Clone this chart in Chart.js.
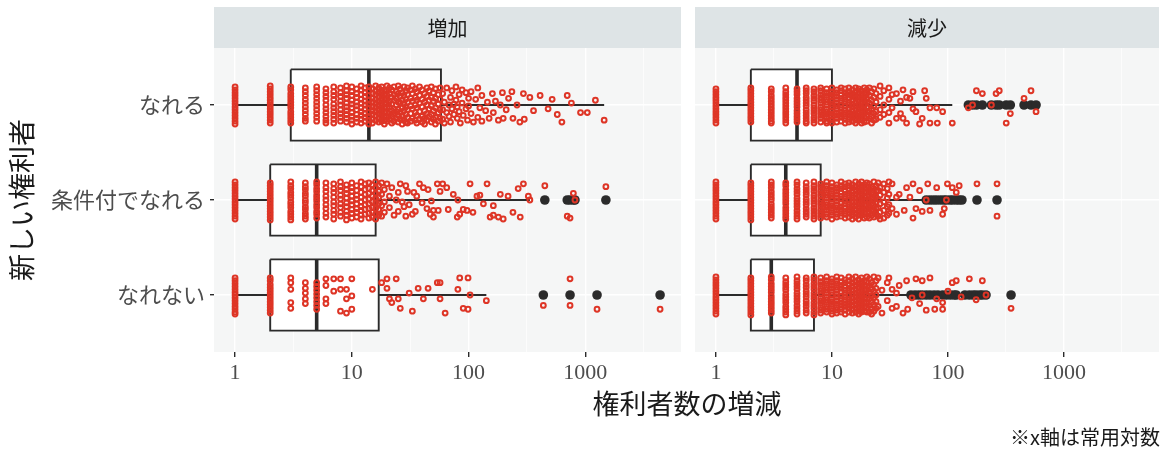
<!DOCTYPE html>
<html>
<head>
<meta charset="utf-8">
<script src="https://cdn.jsdelivr.net/npm/chart.js@4/dist/chart.umd.min.js"></script>
<style>
html, body { margin: 0; padding: 0; background: #fff; }
#wrap { position: relative; width: 1165px; height: 451px; }
#c1 { position: absolute; left: 0; top: 0; }
#c2 { position: absolute; left: 688px; top: 0; }
</style>
</head>
<body>
<div id="wrap">
  <canvas id="c1" width="1165" height="451"></canvas>
  <canvas id="c2" width="477" height="451"></canvas>
</div>
<script>
const categories = ['なれる', '条件付でなれる', 'なれない'];
const facets = ['増加', '減少'];
const xTicks = [1, 10, 100, 1000];
const xMinorTicks = [3.16, 31.6, 316, 3162];

// box stats per category: [lower whisker, Q1, median, Q3, upper whisker]
const statsIncrease = [
  [1, 3, 14, 58, 1450],
  [1, 2, 5, 16, 335],
  [1, 2, 5, 17, 142]
];
const statsDecrease = [
  [1, 2, 5, 10, 109],
  [1, 2, 4, 8, 60],
  [1, 2, 3, 7, 45]
];

const outliersIncrease = [
  [],
  [450, 700, 740, 790, 815, 1500],
  [437, 740, 1260, 4370]
];
const outliersDecrease = [
  [150, 163, 176, 198, 237, 260, 277, 318, 345, 453, 520, 575],
  [65, 70, 75, 80, 86, 92, 97, 104, 110, 118, 125, 132, 178, 265],
  [48, 52, 56, 60, 65, 70, 76, 82, 90, 97, 105, 113, 118, 140, 153, 165, 175, 188, 198, 213, 350]
];

// jittered observations: [value, [vertical offsets in 1/100 of a category]]
const jitIncNareru = [
  [1,[-19,-16,-13,-10,-7,-4,-1,2,5,8,11,14,17,20]],
  [2,[-20,-17,-14,-11,-8,-5,-2,1,4,7,10,13,16,19]],
  [3,[-19,-16,-12,-9,-6,-3,0,3,7,10,13,16,19]],
  [4,[-18,-14,-10,-6,-2,2,6,10,14,17]],
  [5,[-19,-15,-11,-7,-3,1,5,9,13,17]],
  [6,[-17,-13,-9,-5,0,4,8,12,16,19]],
  [7,[-19,-14,-10,-6,-1,3,7,11,15,19]],
  [8,[-18,-13,-9,-4,0,5,9,13,17]],
  [9,[-20,-15,-11,-7,-2,2,6,10,14,18]],
  [10,[-19,-14,-10,-5,-1,3,8,12,16,20]],
  [11,[-17,-12,-8,-3,1,5,10,14,18]],
  [12,[-20,-16,-11,-6,-2,3,7,11,15,19]],
  [13,[-18,-13,-9,-4,0,4,9,13,17]],
  [14,[-19,-15,-10,-5,-1,3,8,12,16,20]],
  [15,[-17,-12,-7,-3,2,6,10,15,19]],
  [16,[-20,-15,-11,-6,-2,2,7,11,16]],
  [17,[-18,-13,-9,-4,1,5,9,14,18]],
  [18,[-19,-14,-10,-5,-1,4,8,12,17]],
  [19,[-16,-11,-7,-2,3,7,12,16,20]],
  [20,[-20,-15,-10,-6,-1,3,8,13,17]],
  [21,[-18,-12,-4,2,9,15]],
  [22,[-16,-8,-1,6,12,19]],
  [23,[-19,-11,-5,4,10,17]],
  [24,[-14,-7,0,7,14]],
  [25,[-20,-12,-3,5,11,18]],
  [26,[-17,-9,-2,8,15]],
  [27,[-13,-5,3,12,20]],
  [28,[-19,-10,-1,6,16]],
  [29,[-15,-6,2,10,18]],
  [30,[-18,-11,-3,5,13,19]],
  [32,[-16,-7,1,9,17]],
  [33,[-20,-12,-4,4,14]],
  [35,[-17,-8,0,8,16]],
  [36,[-14,-5,3,11,19]],
  [38,[-19,-10,-2,7,15]],
  [40,[-16,-6,2,12,18]],
  [42,[-12,-3,6,14,20]],
  [44,[-18,-9,0,9,16]],
  [46,[-15,-5,4,12]],
  [48,[-19,-8,1,10,18]],
  [50,[-13,-4,6,15]],
  [52,[-17,-7,3,13,20]],
  [55,[-11,-1,8,17]],
  [57,[-18,-6,5,14]],
  [60,[-12,5,15]],[62,[-3,19]],[65,[-18,8]],[68,[0,12]],[70,[-8,18]],[72,[-15,4]],
  [75,[10,-1]],[78,[-5,-19]],[80,[14,2]],[83,[-11,7]],[85,[19]],[88,[-2,-16]],
  [90,[11]],[95,[4,-13]],[98,[16]],[100,[-7,1]],[105,[-14,9]],[110,[18]],
  [115,[-6]],[120,[13,-18]],[125,[3]],[130,[-10,17]],[140,[6]],[145,[-3]],
  [150,[14]],[160,[-12]],[163,[8]],[170,[-4]],[180,[16]],[187,[0]],[195,[-13]],
  [198,[14]],[210,[5]],[220,[-7]],[235,[-14]],[240,[14]],[260,[0]],[275,[18]],
  [295,[-12]],[300,[15]],[335,[-8]],[360,[6]],[410,[-10]],[480,[4]],[520,[-6]],
  [575,[10]],[630,[18]],[700,[-10]],[760,[-2]],[910,[8]],[1040,[8]],[1220,[-5]],[1450,[16]]
];
const jitIncJouken = [
  [1,[-19,-16,-13,-10,-7,-4,-1,2,5,8,11,14,17,20]],
  [2,[-18,-15,-12,-9,-6,-3,0,3,6,9,12,15,18,21]],
  [3,[-19,-15,-12,-8,-5,-2,2,5,8,12,15,18,21]],
  [4,[-18,-14,-11,-7,-4,0,3,7,10,14,17,20]],
  [5,[-19,-16,-12,-9,-5,-2,1,5,8,12,15,19]],
  [6,[-18,-13,-9,-4,0,5,9,14,18]],
  [7,[-17,-12,-8,-3,2,6,11,15,20]],
  [8,[-19,-14,-10,-5,-1,4,8,13,17]],
  [9,[-16,-11,-7,-2,3,7,12,16,21]],
  [10,[-18,-13,-9,-4,1,5,10,14,19]],
  [11,[-15,-10,-5,-1,4,9,13,18]],
  [12,[-19,-14,-8,-3,2,7,11,16,20]],
  [13,[-17,-11,-6,0,5,10,15]],
  [14,[-18,-12,-7,-1,4,9,14,19]],
  [15,[-16,-10,-4,2,8,13,18]],
  [16,[-19,-13,-7,-2,3,9,15,20]],
  [17,[-15,-9,-3,4,10,16]],
  [18,[-18,-6,6,17]],
  [19,[-11,2,13]],
  [20,[-17]],[21,[8,-4]],[22,[-13]],[23,[16]],[24,[0]],[25,[-8,12]],[26,[-17]],
  [27,[2]],[28,[7]],[29,[-15,17]],[30,[-9]],[31,[5]],[33,[15]],[34,[-8]],[35,[12]],
  [36,[-4]],[38,[-17]],[40,[3]],[41,[-13]],[44,[9]],[45,[-11]],[47,[15]],[48,[1]],
  [50,[11,18]],[54,[-17]],[55,[11]],[57,[-9]],[60,[-17]],[65,[-13]],[67,[10]],
  [74,[-6]],[80,[18]],[81,[0]],[84,[15]],[90,[10]],[97,[11]],[103,[-17]],[109,[13]],
  [118,[-4]],[125,[-5]],[134,[4]],[144,[-17]],[153,[18]],[163,[16,6]],[180,[18]],
  [187,[-6]],[198,[20]],[218,[-4]],[240,[13]],[266,[-12]],[277,[18]],[295,[-17]],
  [325,[-4]],[335,[0]],
  [450,[-15]],[700,[17]],[740,[19]],[790,[-7]],[815,[0]],[1500,[-14]]
];
const jitIncNarenai = [
  [1,[-18,-15,-12,-9,-6,-3,0,3,6,9,12,15,18,20]],
  [2,[-18,-15,-11,-8,-5,-2,1,4,7,10,13,16,19]],
  [3,[-18,-13,-6,8,14]],
  [4,[-13,-7,-2,4,9]],
  [5,[-13,-9,-5,-1,3,7,11,15]],
  [6,[-17,-10,4,9]],
  [7,[-17,-4]],
  [8,[-17,-6,17]],
  [9,[-6,4,19]],
  [10,[-17,1,15]],
  [15,[-6]],[18,[-13]],[20,[-17,-7]],[21,[4]],[22,[8]],[24,[-17]],[25,[4]],[26,[14]],
  [31,[-2]],[33,[17]],[37,[-7]],[41,[4]],[45,[-7]],[54,[-13]],[57,[-13,4]],[63,[19]],
  [81,[-6]],[84,[-18]],[90,[14]],[99,[-18,15]],[103,[0]],[142,[6]],
  [437,[11]],[740,[-17,11]],[1260,[15]],[4370,[15]]
];

const jitDecNareru = [
  [1,[-17,-14,-11,-8,-5,-2,1,4,7,10,13,16,19]],
  [2,[-18,-15,-12,-9,-6,-3,0,3,6,9,12,15,18]],
  [3,[-17,-14,-10,-7,-4,-1,2,5,8,11,14,17,19]],
  [4,[-18,-14,-11,-8,-5,-2,1,4,7,10,13,16,19]],
  [5,[-17,-14,-11,-7,-4,-1,2,6,9,12,15,18]],
  [6,[-18,-15,-12,-8,-5,-2,1,5,8,11,14,17,19]],
  [7,[-17,-14,-10,-7,-4,0,3,6,9,13,16,19]],
  [8,[-18,-15,-11,-8,-5,-2,2,5,8,11,14,18]],
  [9,[-17,-13,-10,-6,-3,0,4,7,10,13,17,19]],
  [10,[-18,-14,-11,-8,-4,-1,2,6,9,12,16,19]],
  [11,[-16,-13,-9,-6,-2,1,4,8,11,14,18]],
  [12,[-18,-15,-11,-7,-4,0,3,7,10,13,17]],
  [13,[-17,-13,-10,-6,-3,1,5,8,12,15,19]],
  [14,[-18,-14,-11,-7,-3,0,4,8,11,15,18]],
  [15,[-16,-12,-9,-5,-1,2,6,10,13,17]],
  [16,[-18,-14,-10,-7,-3,1,5,9,12,16,19]],
  [17,[-17,-13,-8,-4,0,4,8,12,16]],
  [18,[-15,-11,-7,-2,2,6,11,15,19]],
  [19,[-18,-13,-9,-5,0,5,9,13,18]],
  [20,[-16,-12,-7,-3,3,7,12,17]],
  [21,[-18,-10,-2,6,14]],
  [22,[-14,-5,4,12,19]],
  [23,[-17,-8,1,9,16]],
  [24,[-12,-3,7,15]],
  [26,[-20,-9,5,13]],
  [28,[-15,0,10]],
  [31,[-18,-6,8,19]],
  [33,[-11,3]],[36,[-12,14]],[39,[-4,9]],[41,[14,-16]],[44,[19,-8]],[47,[-7]],
  [50,[4,-14]],[53,[7]],[57,[20]],[60,[14]],[63,[-15]],[65,[-7]],[70,[3,19]],
  [80,[3]],[81,[19]],[90,[7]],[109,[19]],
  [150,[3]],[163,[0]],[176,[-15]],[198,[-12]],[237,[0]],[260,[-12]],[277,[-15]],
  [318,[19]],[345,[9]],[453,[-7]],[520,[-15]],[575,[7]]
];
const jitDecJouken = [
  [1,[-19,-16,-13,-10,-7,-4,-1,2,5,8,11,14,17,20]],
  [2,[-18,-15,-12,-9,-6,-3,0,3,6,9,12,15,18,21]],
  [3,[-19,-16,-13,-9,-6,-3,0,4,7,10,13,16,19]],
  [4,[-18,-15,-11,-8,-5,-2,1,4,8,11,14,17,20]],
  [5,[-19,-16,-12,-9,-6,-2,1,4,7,11,14,17,20]],
  [6,[-18,-14,-11,-8,-5,-1,2,5,9,12,15,18]],
  [7,[-19,-15,-12,-9,-5,-2,1,4,8,11,14,17,20]],
  [8,[-17,-14,-10,-7,-4,0,3,6,10,13,16,19]],
  [9,[-19,-15,-12,-8,-5,-2,2,5,8,11,15,18]],
  [10,[-18,-14,-11,-7,-4,-1,3,6,9,13,16,20]],
  [11,[-16,-13,-9,-6,-2,1,5,8,11,15,18]],
  [12,[-19,-15,-12,-8,-4,-1,3,7,10,14,17]],
  [13,[-17,-14,-10,-6,-3,1,4,8,12,15,19]],
  [14,[-18,-15,-11,-7,-4,0,4,7,11,14,18]],
  [15,[-16,-13,-9,-5,-2,2,6,9,13,16,20]],
  [16,[-19,-14,-10,-6,-2,2,6,10,14,18]],
  [17,[-17,-13,-9,-5,0,4,8,12,16,20]],
  [18,[-19,-15,-10,-6,-1,3,7,12,16]],
  [19,[-16,-12,-8,-3,1,6,10,14,19]],
  [20,[-18,-13,-9,-4,0,5,9,13,18]],
  [21,[-17,-11,-5,1,7,13,19]],
  [22,[-14,-8,-2,4,10,16]],
  [23,[-19,-12,-6,0,6,12,18]],
  [24,[-15,-9,-3,3,9,15]],
  [25,[-18,-10,-1,8,17]],
  [26,[-13,-5,4,13,20]],
  [28,[-17,-8,2,11,19]],
  [30,[-12,-2,7,16]],
  [31,[-19,-6,5,14]],
  [33,[-17,9]],[36,[-3,15]],[38,[-6]],[42,[11]],[44,[-13]],[47,[-3]],[50,[-17,19]],
  [53,[9]],[57,[-10]],[60,[12]],[65,[0]],[67,[-17]],[70,[11]],[80,[-13]],[90,[15]],
  [93,[9]],[97,[0]],[99,[-17]],[109,[-13]],[118,[-8]],[125,[-15]],[178,[-17]],[265,[-17,17]]
];
const jitDecNarenai = [
  [1,[-19,-16,-13,-10,-7,-4,-1,2,5,8,11,14,17,20]],
  [2,[-18,-15,-12,-9,-6,-3,0,3,6,9,12,15,18,21]],
  [3,[-19,-16,-12,-9,-6,-3,1,4,7,10,13,16,19]],
  [4,[-18,-14,-11,-8,-5,-1,2,5,8,12,15,18,21]],
  [5,[-19,-15,-12,-9,-6,-2,1,4,7,11,14,17,20]],
  [6,[-18,-15,-11,-8,-4,-1,2,6,9,12,16,19]],
  [7,[-19,-16,-12,-9,-6,-2,1,4,8,11,14,18,21]],
  [8,[-18,-14,-11,-7,-4,-1,3,6,9,13,16,19]],
  [9,[-19,-15,-12,-8,-5,-2,2,5,8,12,15,18]],
  [10,[-17,-14,-10,-7,-3,0,4,7,10,14,17,20]],
  [11,[-19,-15,-12,-8,-5,-1,2,6,9,13,16,19]],
  [12,[-18,-14,-10,-7,-3,1,4,8,11,15,18]],
  [13,[-16,-13,-9,-5,-2,2,5,9,12,16,20]],
  [14,[-19,-15,-11,-7,-4,0,4,7,11,14,18]],
  [15,[-17,-13,-9,-5,-1,3,7,11,15,19]],
  [16,[-19,-14,-10,-6,-2,2,6,10,14,18]],
  [17,[-16,-12,-8,-3,1,5,9,13,17,20]],
  [18,[-18,-13,-9,-4,0,5,9,14,18]],
  [19,[-15,-10,-6,-1,3,8,12,17]],
  [20,[-19,-14,-9,-5,0,4,9,13,18]],
  [21,[-17,-10,-3,4,11,18]],
  [22,[-13,-6,1,8,15,20]],
  [23,[-19,-11,-4,3,10,17]],
  [24,[-15,-7,0,7,14]],
  [25,[-18,12]],[27,[-5,19]],[30,[-13,6]],[31,[-18]],[33,[-6,14]],[36,[12,-2]],
  [38,[-10]],[41,[19]],[44,[-15]],[45,[15]],[49,[3]],[53,[-17]],[57,[9]],[60,[-15,0]],
  [65,[16]],[70,[-18]],[77,[15]],[80,[4]],[90,[8,15]],[100,[-4]],[109,[-13]],
  [118,[-15]],[130,[2]],[153,[-17]],[175,[5]],[198,[-15]],[213,[0]],[350,[14]]
];

const BOX_HALF = 0.375;
const INK = '#2b2b2b';
const RED = '#DE3526';

function boxDatasets(stats, outliers, jitter) {
  const ds = [];
  const seg = (pts, width, order) => ({
    type: 'line', data: pts, borderColor: INK, borderWidth: width,
    pointRadius: 0, tension: 0, fill: false, order: order
  });
  stats.forEach((s, i) => {
    const [lo, q1, med, q3, hi] = s;
    const top = i - BOX_HALF, bot = i + BOX_HALF;
    ds.push({
      type: 'line',
      data: [{x: q1, y: top}, {x: q3, y: top}, {x: q3, y: bot}, {x: q1, y: bot}, {x: q1, y: top}],
      borderColor: INK, borderWidth: 1.9, backgroundColor: '#ffffff',
      fill: 'shape', pointRadius: 0, tension: 0, order: 6
    });
    ds.push(seg([{x: lo, y: i}, {x: q1, y: i}], 1.8, 5));
    ds.push(seg([{x: q3, y: i}, {x: hi, y: i}], 1.8, 5));
    ds.push(seg([{x: med, y: top}, {x: med, y: bot}], 3.6, 4));
  });
  ds.push({
    type: 'scatter',
    data: outliers.flatMap((vals, i) => vals.map(v => ({x: v, y: i}))),
    pointRadius: 4.8, backgroundColor: INK, borderWidth: 0, order: 2
  });
  ds.push({
    type: 'scatter',
    data: jitter.flatMap((grp, i) => grp.flatMap(([v, offs]) => offs.map(o => ({x: v, y: i + o / 100})))),
    pointRadius: 2.4, borderWidth: 2.0, borderColor: RED,
    backgroundColor: 'rgba(0,0,0,0)', order: 1
  });
  return ds;
}

// panel background, grey strip with facet label, and shared axis text
const panelPlugin = {
  id: 'panel',
  beforeDraw(chart, args, opts) {
    const {ctx, chartArea: a} = chart;
    ctx.save();
    ctx.fillStyle = '#F5F6F6';
    ctx.fillRect(a.left, a.top, a.right - a.left, a.bottom - a.top);
    ctx.fillStyle = '#DEE4E6';
    ctx.fillRect(a.left, 7, a.right - a.left, a.top - 7);
    ctx.fillStyle = '#1a1a1a';
    ctx.font = '20px "Noto Sans CJK JP"';
    ctx.textAlign = 'center';
    ctx.textBaseline = 'middle';
    ctx.fillText(opts.strip, (a.left + a.right) / 2, (7 + a.top) / 2 + 1);
    ctx.restore();
  },
  afterDraw(chart, args, opts) {
    if (!opts.xTitle) return;
    const {ctx} = chart;
    ctx.save();
    ctx.fillStyle = '#1a1a1a';
    ctx.textBaseline = 'middle';
    ctx.font = '27px "Noto Sans CJK JP"';
    ctx.textAlign = 'center';
    ctx.fillText(opts.xTitle, 687, 404);
    ctx.font = '20px "Noto Sans CJK JP"';
    ctx.textAlign = 'right';
    ctx.fillText(opts.note, 1160, 437);
    ctx.restore();
  }
};

const isMajor = v => xTicks.includes(v);

function xScale() {
  return {
    type: 'logarithmic',
    min: 0.66,
    max: 6600,
    afterBuildTicks: s => { s.ticks = xTicks.concat(xMinorTicks).map(v => ({value: v})); },
    afterFit: s => { s.height = 99; },
    ticks: {
      autoSkip: false, maxRotation: 0, padding: 3, color: '#4d4d4d',
      font: {family: '"Liberation Serif", serif', size: 22},
      callback: v => isMajor(v) ? String(v) : ''
    },
    grid: {
      color: '#ffffff',
      lineWidth: c => (c.tick && isMajor(c.tick.value)) ? 1.4 : 0.7,
      tickLength: 5,
      tickWidth: 1.4,
      tickColor: c => (c.tick && isMajor(c.tick.value)) ? INK : 'rgba(0,0,0,0)'
    },
    border: {display: false}
  };
}

function yScale(showLabels) {
  return {
    type: 'linear',
    reverse: true,
    min: -0.6,
    max: 2.6,
    afterBuildTicks: s => { s.ticks = [0, 1, 2].map(v => ({value: v})); },
    afterFit: s => { s.width = showLabels ? 214 : 0; },
    ticks: {
      display: showLabels, padding: 5, color: '#4d4d4d',
      font: {family: '"Noto Sans CJK JP"', size: 22},
      callback: v => categories[v]
    },
    grid: {color: '#ffffff', lineWidth: 1.4, tickLength: 4, tickWidth: 1.4, tickColor: INK, drawTicks: showLabels},
    border: {display: false},
    title: {
      display: showLabels, text: '新しい権利者', color: '#1a1a1a',
      font: {family: '"Noto Sans CJK JP"', size: 27},
      padding: {top: 6, bottom: 0}
    }
  };
}

function makeChart(id, datasets, padding, showLabels, pluginOpts) {
  return new Chart(document.getElementById(id), {
    type: 'scatter',
    data: {datasets: datasets},
    options: {
      responsive: false,
      animation: false,
      events: [],
      layout: {padding: padding},
      plugins: {legend: {display: false}, tooltip: {enabled: false}, panel: pluginOpts},
      scales: {x: xScale(), y: yScale(showLabels)}
    },
    plugins: [panelPlugin]
  });
}

makeChart('c1',
  boxDatasets(statsIncrease, outliersIncrease, [jitIncNareru, jitIncJouken, jitIncNarenai]),
  {top: 48, left: 0, right: 484, bottom: 0}, true,
  {strip: facets[0], xTitle: '権利者数の増減', note: '※x軸は常用対数'});

makeChart('c2',
  boxDatasets(statsDecrease, outliersDecrease, [jitDecNareru, jitDecJouken, jitDecNarenai]),
  {top: 48, left: 7, right: 5, bottom: 0}, false,
  {strip: facets[1]});
</script>
</body>
</html>
